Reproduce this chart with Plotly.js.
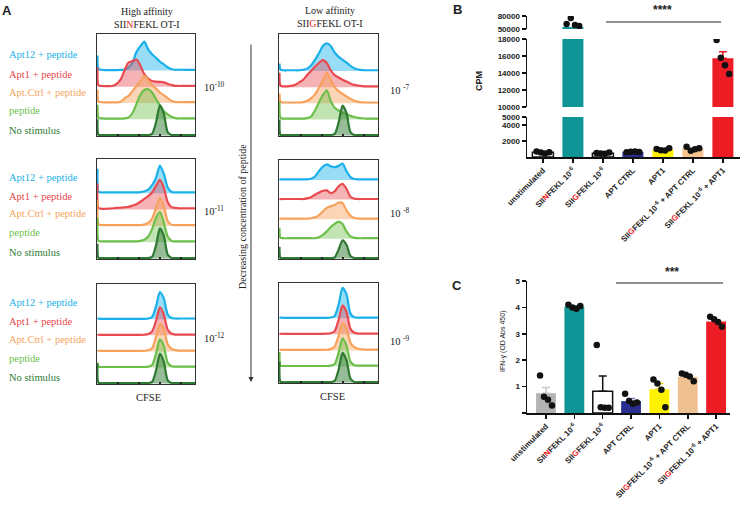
<!DOCTYPE html>
<html><head><meta charset="utf-8">
<script src="https://cdn.plot.ly/plotly-3.0.1.min.js"></script>
<style>html,body{margin:0;padding:0;background:#fff}#chart{width:741px;height:505px}</style>
</head><body><div id="chart"></div>
<script>
// ================= DATA =================
// Panel A: CFSE histograms (height above each row baseline, in row units)
const cfseGrid = [0,1,4,8,12,16,20,24,28,32,36,40,44,48,52,56,60,64,68,72,76,80,84,88,92,96,100];
const conditions = ['Apt12 + peptide','Apt1 + peptide','Apt.Ctrl + peptide','peptide','No stimulus'];

// High affinity SIINFEKL 1e-10
const hi10_apt12 = [0.92,0.1,0.05,0.03,0.03,0.03,0.03,0.04,0.06,0.2,0.5,1.15,1.5,1.78,1.3,1.0,0.78,0.55,0.38,0.2,0.08,0.05,0.05,0.05,0.04,0.04,0.04];
const hi10_apt1  = [1.19,0.1,0.05,0.04,0.04,0.06,0.2,0.47,1.05,1.5,1.58,1.68,1.3,0.78,0.5,0.36,0.32,0.3,0.27,0.18,0.1,0.06,0.05,0.05,0.05,0.05,0.05];
const hi10_ctrl  = [0.82,0.1,0.05,0.04,0.04,0.04,0.04,0.1,0.3,0.45,0.75,1.05,1.35,1.68,1.4,1.1,0.9,0.65,0.48,0.3,0.12,0.06,0.05,0.05,0.05,0.05,0.05];
const hi10_pep   = [0.9,0.1,0.05,0.04,0.04,0.04,0.04,0.04,0.05,0.12,0.4,0.95,1.5,1.8,1.85,1.65,1.25,0.85,0.5,0.3,0.15,0.07,0.05,0.05,0.05,0.05,0.05];
const hi10_none  = [1.0,0.05,0.02,0.02,0.02,0.02,0.02,0.02,0.02,0.02,0.02,0.02,0.02,0.02,0.03,0.1,0.8,1.85,1.35,0.2,0.03,0.02,0.02,0.02,0.02,0.02,0.02];
// High affinity 1e-11
const hi11_apt12 = [1.5,0.1,0.05,0.05,0.05,0.05,0.05,0.05,0.05,0.05,0.05,0.05,0.07,0.12,0.22,0.5,0.95,1.7,1.2,0.35,0.08,0.05,0.05,0.05,0.05,0.05,0.05];
const hi11_apt1  = [1.6,0.1,0.05,0.05,0.06,0.08,0.1,0.12,0.14,0.17,0.25,0.33,0.48,0.65,0.82,1.05,1.45,1.82,1.35,0.45,0.15,0.1,0.08,0.08,0.08,0.08,0.08];
const hi11_ctrl  = [1.6,0.1,0.05,0.05,0.05,0.05,0.05,0.05,0.05,0.05,0.05,0.05,0.05,0.08,0.18,0.45,1.1,1.72,1.2,0.3,0.07,0.05,0.05,0.05,0.05,0.05,0.05];
const hi11_pep   = [1.5,0.1,0.05,0.05,0.05,0.05,0.05,0.05,0.05,0.05,0.05,0.05,0.08,0.15,0.35,0.8,1.5,1.85,1.2,0.35,0.08,0.05,0.05,0.05,0.05,0.05,0.05];
const hi11_none  = [0.9,0.05,0.02,0.02,0.02,0.02,0.02,0.02,0.02,0.02,0.02,0.02,0.02,0.02,0.03,0.1,0.8,1.85,1.4,0.25,0.03,0.02,0.02,0.02,0.02,0.02,0.02];
// High affinity 1e-12
const hi12_apt12 = [0.05,0.04,0.03,0.03,0.03,0.03,0.03,0.03,0.03,0.03,0.03,0.03,0.03,0.03,0.05,0.15,0.8,1.7,1.3,0.3,0.08,0.05,0.05,0.05,0.05,0.05,0.05];
const hi12_apt1  = [0.05,0.04,0.03,0.03,0.03,0.03,0.03,0.03,0.03,0.03,0.03,0.03,0.03,0.04,0.08,0.25,0.9,1.75,1.3,0.35,0.1,0.05,0.05,0.05,0.05,0.05,0.05];
const hi12_ctrl  = [0.05,0.04,0.03,0.03,0.03,0.03,0.03,0.03,0.03,0.03,0.03,0.03,0.03,0.04,0.07,0.2,0.9,1.7,1.4,0.45,0.15,0.08,0.05,0.05,0.05,0.05,0.05];
const hi12_pep   = [0.3,0.05,0.03,0.03,0.03,0.03,0.03,0.03,0.03,0.03,0.03,0.03,0.03,0.03,0.05,0.15,0.85,1.75,1.35,0.3,0.08,0.05,0.05,0.05,0.05,0.05,0.05];
const hi12_none  = [1.25,0.05,0.02,0.02,0.02,0.02,0.02,0.02,0.02,0.02,0.02,0.02,0.02,0.02,0.03,0.1,0.8,1.85,1.35,0.2,0.03,0.02,0.02,0.02,0.02,0.02,0.02];
// Low affinity SIIGFEKL 1e-7
const lo7_apt12 = [0.47,0.1,0.05,0.05,0.05,0.05,0.05,0.08,0.15,0.35,0.7,1.1,1.55,1.72,1.55,1.15,0.88,0.7,0.52,0.32,0.18,0.1,0.06,0.05,0.05,0.05,0.05];
const lo7_apt1  = [0.9,0.1,0.05,0.05,0.08,0.15,0.3,0.45,0.75,1.0,1.28,1.5,1.68,1.5,1.05,0.75,0.6,0.46,0.35,0.23,0.14,0.1,0.07,0.05,0.05,0.05,0.05];
const lo7_ctrl  = [0.6,0.1,0.05,0.05,0.05,0.05,0.05,0.07,0.15,0.3,0.55,0.95,1.4,1.9,1.45,1.0,0.75,0.58,0.42,0.28,0.16,0.09,0.06,0.05,0.05,0.05,0.05];
const lo7_pep   = [1.1,0.1,0.05,0.05,0.05,0.05,0.05,0.05,0.08,0.18,0.55,1.05,1.5,1.8,1.15,0.72,0.55,0.42,0.32,0.22,0.15,0.1,0.07,0.05,0.05,0.05,0.05];
const lo7_none  = [1.0,0.05,0.02,0.02,0.02,0.02,0.02,0.02,0.02,0.02,0.02,0.02,0.02,0.02,0.03,0.1,0.8,1.85,1.4,0.22,0.03,0.02,0.02,0.02,0.02,0.02,0.02];
// Low affinity 1e-8
const lo8_apt12 = [0.05,0.03,0.03,0.03,0.03,0.03,0.03,0.03,0.03,0.06,0.18,0.45,0.68,0.8,0.7,0.66,0.72,0.84,0.45,0.15,0.05,0.03,0.03,0.03,0.03,0.03,0.03];
const lo8_apt1  = [0.05,0.03,0.03,0.03,0.03,0.03,0.03,0.03,0.06,0.12,0.25,0.36,0.45,0.47,0.33,0.42,0.68,0.8,0.55,0.15,0.05,0.03,0.03,0.03,0.03,0.03,0.03];
const lo8_ctrl  = [0.05,0.03,0.03,0.03,0.03,0.03,0.03,0.03,0.03,0.05,0.1,0.2,0.4,0.58,0.66,0.72,0.85,0.82,0.45,0.18,0.06,0.03,0.03,0.03,0.03,0.03,0.03];
const lo8_pep   = [0.56,0.05,0.03,0.03,0.03,0.03,0.03,0.03,0.03,0.03,0.03,0.08,0.2,0.38,0.6,0.76,0.88,0.75,0.38,0.12,0.05,0.03,0.03,0.03,0.03,0.03,0.03];
const lo8_none  = [0.6,0.03,0.02,0.02,0.02,0.02,0.02,0.02,0.02,0.02,0.02,0.02,0.02,0.02,0.02,0.05,0.45,0.92,0.7,0.12,0.02,0.02,0.02,0.02,0.02,0.02,0.02];
// Low affinity 1e-9
const lo9_apt12 = [0.05,0.04,0.03,0.03,0.03,0.03,0.03,0.03,0.03,0.03,0.03,0.03,0.03,0.03,0.05,0.15,0.85,1.9,1.5,0.3,0.06,0.04,0.04,0.04,0.04,0.04,0.04];
const lo9_apt1  = [0.05,0.04,0.03,0.03,0.03,0.03,0.03,0.03,0.03,0.03,0.03,0.03,0.03,0.04,0.07,0.2,0.9,1.8,1.4,0.35,0.1,0.05,0.05,0.05,0.05,0.05,0.05];
const lo9_ctrl  = [0.05,0.04,0.03,0.03,0.03,0.03,0.03,0.03,0.03,0.03,0.03,0.03,0.03,0.04,0.08,0.25,0.9,1.7,1.35,0.5,0.2,0.1,0.06,0.05,0.05,0.05,0.05];
const lo9_pep   = [0.9,0.05,0.03,0.03,0.03,0.03,0.03,0.03,0.03,0.03,0.03,0.03,0.03,0.03,0.05,0.15,0.85,1.75,1.3,0.3,0.08,0.05,0.05,0.05,0.05,0.05,0.05];
const lo9_none  = [1.3,0.05,0.02,0.02,0.02,0.02,0.02,0.02,0.02,0.02,0.02,0.02,0.02,0.02,0.03,0.1,0.8,1.85,1.4,0.25,0.03,0.02,0.02,0.02,0.02,0.02,0.02];

const concLabels = ['10<sup>-10</sup>','10<sup>-11</sup>','10<sup>-12</sup>','10 <sup>-7</sup>','10 <sup>-8</sup>','10 <sup>-9</sup>'];

// Panel B: proliferation (CPM)
const groupLabels = ['unstimulated',
  'SII<span style="color:#ED1C24">N</span>FEKL 10<sup>-6</sup>',
  'SII<span style="color:#ED1C24">G</span>FEKL 10<sup>-6</sup>',
  'APT CTRL','APT1',
  'SII<span style="color:#ED1C24">G</span>FEKL 10<sup>-6</sup> + APT CTRL',
  'SII<span style="color:#ED1C24">G</span>FEKL 10<sup>-6</sup> + APT1'];
const cpmMean = [600, 54500, 460, 670, 920, 1080, 15750];
const cpmSem  = [80, 0, 50, 40, 60, 100, 750];
const cpmUnstim   = [700, 550, 450, 600];
const cpmSIIN     = [61500, 75400, 59200, 56900];
const cpmSIIG     = [500, 450, 400, 550];
const cpmAptCtrl  = [600, 650, 700, 620];
const cpmApt1     = [1000, 850, 800, 1080];
const cpmSIIGCtrl = [1290, 790, 960, 1080];
const cpmSIIGApt1 = [17880, 15800, 14900, 13880];

// Panel C: IFN-gamma (OD Abs 450)
const ifnMean = [0.75, 4.02, 0.82, 0.45, 0.9, 1.37, 3.47];
const ifnSem  = [0.22, 0.03, 0.58, 0.1, 0.22, 0.05, 0.05];
const ifnUnstim   = [1.42, 0.62, 0.5, 0.28];
const ifnSIIN     = [4.1, 4.0, 3.95, 4.05];
const ifnSIIG     = [2.58, 0.22, 0.2, 0.2];
const ifnAptCtrl  = [0.73, 0.45, 0.35, 0.4];
const ifnApt1     = [1.27, 1.12, 0.88, 0.22];
const ifnSIIGCtrl = [1.5, 1.45, 1.38, 1.2];
const ifnSIIGApt1 = [3.65, 3.55, 3.45, 3.27];

// ================= STYLE / LAYOUT =================
const W = 741, H = 505;
const fx = p => p / W, fy = p => 1 - p / H;
const SERIF = 'Liberation Serif, Times New Roman, serif';
const SANS = 'Liberation Sans, Arial, sans-serif';
const lineCol = ['#1AB1EA','#E84A50','#F7A25C','#6DBF4B','#2E7A32'];
const fillCol = ['rgba(26,177,234,0.45)','rgba(232,74,80,0.42)','rgba(247,162,92,0.45)','rgba(109,191,75,0.42)','rgba(46,122,50,0.5)'];
const textCol = ['#1AB1EA','#E8454A','#F5A55E','#6DBF4B','#2E7A32'];

const panels = [
  {c:[hi10_apt12,hi10_apt1,hi10_ctrl,hi10_pep,hi10_none], px:[97,195], py:[34,136], top:6.25, lab:[202,86]},
  {c:[hi11_apt12,hi11_apt1,hi11_ctrl,hi11_pep,hi11_none], px:[97,195], py:[159,259], top:6.1, lab:[202,211]},
  {c:[hi12_apt12,hi12_apt1,hi12_ctrl,hi12_pep,hi12_none], px:[97,195], py:[284,384], top:6.2, lab:[202,337]},
  {c:[lo7_apt12,lo7_apt1,lo7_ctrl,lo7_pep,lo7_none], px:[279,378], py:[34,136], top:6.3, lab:[388,90]},
  {c:[lo8_apt12,lo8_apt1,lo8_ctrl,lo8_pep,lo8_none], px:[279,378], py:[160,259], top:5.02, lab:[388,213]},
  {c:[lo9_apt12,lo9_apt1,lo9_ctrl,lo9_pep,lo9_none], px:[279,378], py:[283,383], top:6.2, lab:[388,340]}
];
const labelRowsY = [[55,74,93,111,130],[177,196,214,233,252],[302,321,339,358,377]];

const traces = [];
const layout = {
  width: W, height: H, margin:{l:0,r:0,t:0,b:0}, showlegend:false,
  paper_bgcolor:'#fff', plot_bgcolor:'rgba(0,0,0,0)', barmode:'overlay',
  annotations:[], shapes:[]
};
function ann(x, y, text, o) {
  layout.annotations.push(Object.assign({x:fx(x), y:fy(y), xref:'paper', yref:'paper', text:text,
    showarrow:false, xanchor:'center', yanchor:'middle', font:{family:SERIF, size:10, color:'#222'}}, o||{}));
}

panels.forEach((p, k) => {
  const n = k + 1;
  p.c.forEach((vals, i) => {
    const off = 4 - i;
    traces.push({type:'scatter', mode:'lines', x:cfseGrid, y:cfseGrid.map(() => off),
      xaxis:'x'+n, yaxis:'y'+n, line:{width:0, color:'rgba(0,0,0,0)'}, hoverinfo:'skip'});
    traces.push({type:'scatter', mode:'lines', x:cfseGrid, y:vals.map(v => v + off),
      xaxis:'x'+n, yaxis:'y'+n, line:{color:lineCol[i], width:2.2, shape:'spline', smoothing:0.7},
      fill:'tonexty', fillcolor:fillCol[i], hoverinfo:'skip'});
  });
  layout['xaxis'+n] = {domain:[fx(p.px[0]), fx(p.px[1])], range:[-0.5,100], anchor:'y'+n,
    showline:true, mirror:true, linecolor:'#333', linewidth:1, showgrid:false, zeroline:false,
    tickvals:[0,21.5,43,64.5,86], ticks:'inside', ticklen:2, tickwidth:2, tickcolor:'#222', showticklabels:false};
  layout['yaxis'+n] = {domain:[fy(p.py[1]), fy(p.py[0])], range:[-0.03, p.top], anchor:'x'+n,
    showline:true, mirror:true, linecolor:'#333', linewidth:1, showgrid:false, zeroline:false,
    showticklabels:false, ticks:''};
  ann(p.lab[0], p.lab[1], concLabels[k], {xanchor:'left', font:{family:SERIF, size:10.5, color:'#222'}});
});

labelRowsY.forEach(rows => rows.forEach((y, i) =>
  ann(7, y, conditions[i], {xanchor:'left', font:{family:SERIF, size:10.5, color:textCol[i]}})));

ann(147, 11, 'High affinity');
ann(147, 24, 'SII<span style="color:#E8262D">N</span>FEKL OT-I');
ann(330, 10, 'Low affinity');
ann(330, 23, 'SII<span style="color:#E8262D">G</span>FEKL OT-I');
ann(148, 397, 'CFSE', {font:{family:SERIF, size:10.5, color:'#222'}});
ann(332, 396, 'CFSE', {font:{family:SERIF, size:10.5, color:'#222'}});
ann(243, 217, 'Decreasing concentration of peptide', {textangle:-90, font:{family:SERIF, size:10, color:'#222'}});
layout.annotations.push({x:fx(251), y:fy(382), xref:'paper', yref:'paper', text:'', showarrow:true,
  ax:0, ay:-339, arrowhead:2, arrowsize:1, arrowwidth:1, arrowcolor:'#333'});

// panel letters
ann(7, 10, '<b>A</b>', {font:{family:SANS, size:13, color:'#222'}});
ann(457, 9, '<b>B</b>', {font:{family:SANS, size:13, color:'#222'}});
ann(457, 285, '<b>C</b>', {font:{family:SANS, size:13, color:'#222'}});

// ---- Panel B ----
const barColB = ['#FFFFFF','#0F9595','#FFFFFF','#2A2F8F','#FFF200','#F7C48E','#ED1C24'];
const barColC = ['#B3B3B3','#0F9595','#FFFFFF','#2A2F8F','#FFF200','#F0C190','#ED1C24'];
const errColC = ['#C8C8C8','#0F9595','#111111','#7480CC','#E8D800','#F0C190','#ED1C24'];
const jitter = [-0.21,-0.07,0.07,0.21];
const cpmDots = [cpmUnstim,cpmSIIN,cpmSIIG,cpmAptCtrl,cpmApt1,cpmSIIGCtrl,cpmSIIGApt1];
const ifnDots = [ifnUnstim,ifnSIIN,ifnSIIG,ifnAptCtrl,ifnApt1,ifnSIIGCtrl,ifnSIIGApt1];

['y7','y8','y9'].forEach(ya => {
  cpmMean.forEach((m, i) => {
    const white = barColB[i] === '#FFFFFF';
    traces.push({type:'bar', x:[i], y:[m], width:0.7, xaxis:'x7', yaxis:ya,
      marker:{color:barColB[i], line:{color: white ? '#111' : barColB[i], width: white ? 1.5 : 0}},
      error_y:{type:'data', array:[cpmSem[i]], arrayminus:[0], symmetric:false,
        color: i === 6 ? '#ED1C24' : '#111', thickness:1.5, width:4, visible: i === 6},
      hoverinfo:'skip'});
  });
  const dx = [], dy = [];
  cpmDots.forEach((arr, i) => arr.forEach((v, j) => { dx.push(i + jitter[j]); dy.push(v); }));
  traces.push({type:'scatter', mode:'markers', x:dx, y:dy, xaxis:'x7', yaxis:ya,
    marker:{size:6.5, color:'#111'}, cliponaxis:true, hoverinfo:'skip'});
});

const axB = {showline:true, linecolor:'#111', linewidth:1.5, showgrid:false, zeroline:false,
  ticks:'outside', ticklen:4, tickwidth:1.5, tickcolor:'#111', tickformat:'d',
  tickfont:{family:SANS, size:8, color:'#222', weight:'bold'}};
layout.xaxis7 = Object.assign({}, axB, {domain:[fx(527), fx(740)], range:[-0.53, 6.57], anchor:'y7',
  tickvals:[0,1,2,3,4,5,6], ticktext:groupLabels, tickangle:-45,
  tickfont:{family:SANS, size:8, color:'#222', weight:'bold'}});
layout.yaxis7 = Object.assign({}, axB, {domain:[fy(157), fy(117)], range:[0,5000], anchor:'x7',
  tickvals:[2000,4000,5000]});
layout.yaxis8 = Object.assign({}, axB, {domain:[fy(107), fy(39)], range:[10000,18000], anchor:'x7',
  tickvals:[10000,12000,14000,16000,18000]});
layout.yaxis9 = Object.assign({}, axB, {domain:[fy(29), fy(16)], range:[50000,80000], anchor:'x7',
  tickvals:[50000,80000]});
ann(479, 81, '<b>CPM</b>', {textangle:-90, font:{family:SANS, size:9, color:'#222'}});
layout.shapes.push({type:'line', xref:'paper', yref:'paper', x0:fx(606), x1:fx(721), y0:fy(22), y1:fy(22),
  line:{color:'#222', width:1.2}});
ann(662, 10, '<b>****</b>', {font:{family:SANS, size:12, color:'#222'}});

// ---- Panel C ----
ifnMean.forEach((m, i) => {
  const white = barColC[i] === '#FFFFFF';
  traces.push({type:'bar', x:[i], y:[m], width:0.7, xaxis:'x8', yaxis:'y10',
    marker:{color:barColC[i], line:{color: white ? '#111' : barColC[i], width: white ? 1.5 : 0}},
    error_y:{type:'data', array:[ifnSem[i]], arrayminus:[0], symmetric:false,
      color:errColC[i], thickness:1.5, width:4},
    hoverinfo:'skip'});
});
{
  const dx = [], dy = [];
  ifnDots.forEach((arr, i) => arr.forEach((v, j) => { dx.push(i + jitter[j]); dy.push(v); }));
  traces.push({type:'scatter', mode:'markers', x:dx, y:dy, xaxis:'x8', yaxis:'y10',
    marker:{size:6.5, color:'#111'}, cliponaxis:false, hoverinfo:'skip'});
}
layout.xaxis8 = Object.assign({}, axB, {domain:[fx(527), fx(730)], range:[-0.67, 6.49], anchor:'y10',
  tickvals:[0,1,2,3,4,5,6], ticktext:groupLabels, tickangle:-45,
  tickfont:{family:SANS, size:8, color:'#222', weight:'bold'}});
layout.yaxis10 = Object.assign({}, axB, {domain:[fy(413), fy(281)], range:[0,5], anchor:'x8',
  tickvals:[0,1,2,3,4,5], ticktext:['','1','2','3','4','5'], tickfont:{family:SANS, size:8, color:'#222', weight:'bold'}});
ann(503, 342, 'IFN-γ (OD Abs 450)', {textangle:-90, font:{family:SANS, size:7, color:'#222'}});
layout.shapes.push({type:'line', xref:'paper', yref:'paper', x0:fx(616), x1:fx(723), y0:fy(283), y1:fy(283),
  line:{color:'#222', width:1.2}});
ann(672, 272, '<b>***</b>', {font:{family:SANS, size:12, color:'#222'}});

Plotly.newPlot('chart', traces, layout, {staticPlot:true, displayModeBar:false});
</script></body></html>
